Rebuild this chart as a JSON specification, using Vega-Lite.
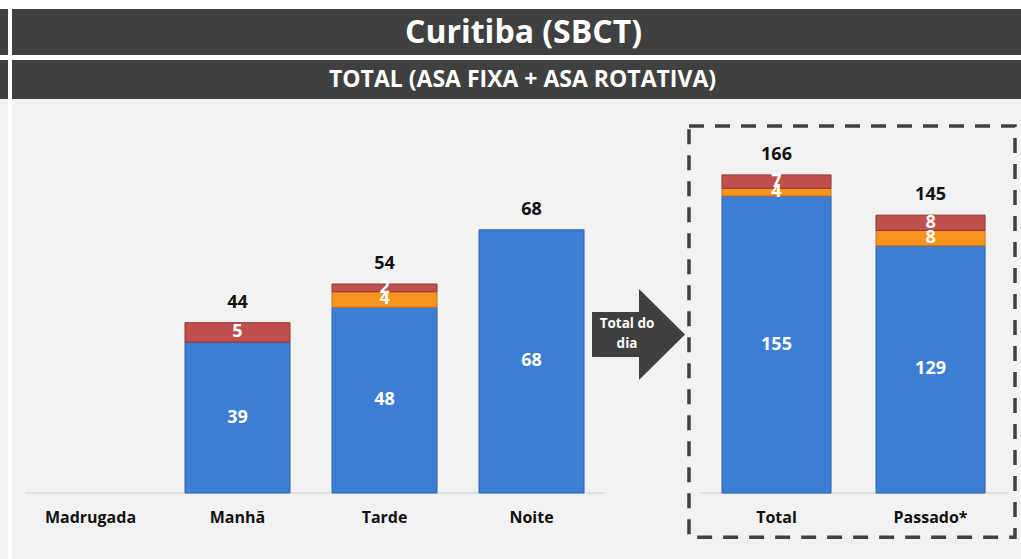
{
  "$schema": "https://vega.github.io/schema/vega-lite/v6.json",
  "background": "white",
  "padding": {"top": 9, "left": 0, "right": 0, "bottom": 0},
  "config": {"view": {"stroke": null}, "concat": {"spacing": 0}},
  "datasets": {
    "barras": [
      {"painel": "L", "periodo": "Manhã", "serie": "Série 1", "valor": 39},
      {"painel": "L", "periodo": "Manhã", "serie": "Série 3", "valor": 5},
      {"painel": "L", "periodo": "Tarde", "serie": "Série 1", "valor": 48},
      {"painel": "L", "periodo": "Tarde", "serie": "Série 2", "valor": 4},
      {"painel": "L", "periodo": "Tarde", "serie": "Série 3", "valor": 2},
      {"painel": "L", "periodo": "Noite", "serie": "Série 1", "valor": 68},
      {"painel": "R", "periodo": "Total", "serie": "Série 1", "valor": 155},
      {"painel": "R", "periodo": "Total", "serie": "Série 2", "valor": 4},
      {"painel": "R", "periodo": "Total", "serie": "Série 3", "valor": 7},
      {"painel": "R", "periodo": "Passado*", "serie": "Série 1", "valor": 129},
      {"painel": "R", "periodo": "Passado*", "serie": "Série 2", "valor": 8},
      {"painel": "R", "periodo": "Passado*", "serie": "Série 3", "valor": 8}
    ],
    "categorias": [
      {"painel": "L", "periodo": "Madrugada"},
      {"painel": "L", "periodo": "Manhã"},
      {"painel": "L", "periodo": "Tarde"},
      {"painel": "L", "periodo": "Noite"},
      {"painel": "R", "periodo": "Total"},
      {"painel": "R", "periodo": "Passado*"}
    ]
  },
  "spacing": 4,
  "hconcat": [
    {
      "spacing": 5,
      "vconcat": [
        {"width": 8, "height": 46, "view": {"fill": "#404040", "stroke": null}, "data": {"values": [{}]}, "mark": "text", "encoding": {"text": {"value": ""}}},
        {
          "spacing": 0,
          "vconcat": [
            {"width": 8, "height": 39, "view": {"fill": "#404040", "stroke": null}, "data": {"values": [{}]}, "mark": "text", "encoding": {"text": {"value": ""}}},
            {"width": 8, "height": 460, "view": {"fill": "#f2f2f2", "stroke": null}, "data": {"values": [{}]}, "mark": "text", "encoding": {"text": {"value": ""}}}
          ]
        }
      ]
    },
    {
      "spacing": 5,
      "vconcat": [
        {
          "width": 1009, "height": 46,
          "view": {"fill": "#404040", "stroke": null},
          "data": {"values": [{"titulo": "Curitiba (SBCT)"}]},
          "mark": {"type": "text", "color": "white", "font": "Open Sans", "fontWeight": "bold", "fontSize": 32, "dx": 7, "dy": 1, "baseline": "middle"},
          "encoding": {"text": {"field": "titulo"}}
        },
        {
          "spacing": 0,
          "vconcat": [
            {
              "width": 1009, "height": 39,
              "view": {"fill": "#404040", "stroke": null},
              "data": {"values": [{"titulo": "TOTAL (ASA FIXA + ASA ROTATIVA)"}]},
              "mark": {"type": "text", "color": "white", "font": "Open Sans", "fontWeight": "bold", "fontSize": 23, "dx": 6, "baseline": "middle"},
              "encoding": {"text": {"field": "titulo"}}
            },
            {
              "spacing": 0,
              "bounds": "flush",
              "hconcat": [
                {
                  "width": 676, "height": 460,
                  "view": {"fill": "#f2f2f2", "stroke": null},
                  "resolve": {"scale": {"x": "independent"}},
                  "layer": [
                    {
                      "data": {"values": [{}]},
                      "layer": [
                        {
                          "mark": {"type": "rule", "color": "#d9d9d9", "strokeWidth": 1.5},
                          "encoding": {
                            "x": {"datum": 1.92, "type": "quantitative", "scale": {"domain": [0, 100], "nice": false, "zero": false}, "axis": null},
                            "x2": {"datum": 87.7},
                            "y": {"datum": 0, "type": "quantitative", "scale": {"domain": [-17.05, 101.8], "nice": false, "zero": false}, "axis": null}
                          }
                        },
                        {
                          "mark": {"type": "point", "shape": "M-1,-0.484L0.01,-0.484L0.01,-0.978L1,0L0.01,0.978L0.01,0.484L-1,0.484Z", "size": 8649, "filled": true, "color": "#404040", "opacity": 1, "strokeWidth": 0},
                          "encoding": {
                            "x": {"datum": 92.68, "type": "quantitative", "scale": {"domain": [0, 100], "nice": false, "zero": false}, "axis": null},
                            "y": {"datum": 40.96, "type": "quantitative", "scale": {"domain": [-17.05, 101.8], "nice": false, "zero": false}, "axis": null}
                          }
                        },
                        {
                          "mark": {"type": "text", "color": "white", "font": "Open Sans", "fontWeight": "bold", "fontSize": 13.5, "lineHeight": 20, "baseline": "middle", "align": "center"},
                          "encoding": {
                            "x": {"datum": 90.98, "type": "quantitative", "scale": {"domain": [0, 100], "nice": false, "zero": false}, "axis": null},
                            "y": {"datum": 43.6, "type": "quantitative", "scale": {"domain": [-17.05, 101.8], "nice": false, "zero": false}, "axis": null},
                            "text": {"value": ["Total do", "dia"]}
                          }
                        }
                      ]
                    },
                    {
                      "layer": [
                        {
                          "data": {"name": "barras"},
                          "transform": [{"filter": "datum.painel == 'L'"}],
                          "mark": {"type": "bar", "strokeWidth": 1},
                          "encoding": {
                            "x": {"field": "periodo", "type": "nominal", "scale": {"domain": ["Madrugada", "Manhã", "Tarde", "Noite"], "paddingInner": 0.2857, "paddingOuter": 0.442, "align": 0.2}, "axis": null},
                            "y": {"field": "valor", "type": "quantitative", "stack": "zero", "scale": {"domain": [-17.05, 101.8], "nice": false, "zero": false}, "axis": null},
                            "color": {"field": "serie", "type": "nominal", "scale": {"domain": ["Série 1", "Série 2", "Série 3"], "range": ["#3c7dd5", "#f7941e", "#c0504d"]}, "legend": null},
                            "stroke": {"field": "serie", "type": "nominal", "scale": {"domain": ["Série 1", "Série 2", "Série 3"], "range": ["#2f62a8", "#c9720f", "#8f3533"]}, "legend": null},
                            "order": {"field": "serie"}
                          }
                        },
                        {
                          "data": {"name": "barras"},
                          "transform": [{"filter": "datum.painel == 'L'"}],
                          "mark": {"type": "text", "color": "white", "font": "Open Sans", "fontWeight": "bold", "fontSize": 18, "baseline": "middle"},
                          "encoding": {
                            "x": {"field": "periodo", "type": "nominal", "scale": {"domain": ["Madrugada", "Manhã", "Tarde", "Noite"], "paddingInner": 0.2857, "paddingOuter": 0.442, "align": 0.2}, "axis": null},
                            "y": {"field": "valor", "type": "quantitative", "stack": "zero", "bandPosition": 0.5, "scale": {"domain": [-17.05, 101.8], "nice": false, "zero": false}, "axis": null},
                            "detail": {"field": "serie", "type": "nominal"},
                            "order": {"field": "serie"},
                            "text": {"field": "valor", "type": "quantitative"}
                          }
                        },
                        {
                          "data": {"name": "barras"},
                          "transform": [{"filter": "datum.painel == 'L'"}],
                          "mark": {"type": "text", "color": "#111111", "font": "Open Sans", "fontWeight": "bold", "fontSize": 18, "baseline": "middle", "dy": -20},
                          "encoding": {
                            "x": {"field": "periodo", "type": "nominal", "scale": {"domain": ["Madrugada", "Manhã", "Tarde", "Noite"], "paddingInner": 0.2857, "paddingOuter": 0.442, "align": 0.2}, "axis": null},
                            "y": {"aggregate": "sum", "field": "valor", "type": "quantitative", "scale": {"domain": [-17.05, 101.8], "nice": false, "zero": false}, "axis": null},
                            "text": {"aggregate": "sum", "field": "valor", "type": "quantitative"}
                          }
                        },
                        {
                          "data": {"name": "categorias"},
                          "transform": [{"filter": "datum.painel == 'L'"}],
                          "mark": {"type": "text", "color": "#111111", "font": "Open Sans", "fontWeight": "bold", "fontSize": 16, "baseline": "middle"},
                          "encoding": {
                            "x": {"field": "periodo", "type": "nominal", "scale": {"domain": ["Madrugada", "Manhã", "Tarde", "Noite"], "paddingInner": 0.2857, "paddingOuter": 0.442, "align": 0.2}, "axis": null},
                            "y": {"datum": -6.46, "type": "quantitative", "scale": {"domain": [-17.05, 101.8], "nice": false, "zero": false}, "axis": null},
                            "text": {"field": "periodo", "type": "nominal"}
                          }
                        }
                      ]
                    }
                  ]
                },
                {
                  "width": 333, "height": 460,
                  "view": {"fill": "#f2f2f2", "stroke": null},
                  "resolve": {"scale": {"x": "independent"}},
                  "layer": [
                    {
                      "data": {"values": [{}]},
                      "layer": [
                        {
                          "mark": {"type": "rect", "fill": "#f2f2f2", "strokeWidth": 0},
                          "encoding": {
                            "x": {"datum": -0.9, "type": "quantitative", "scale": {"domain": [0, 100], "nice": false, "zero": false}, "axis": null},
                            "x2": {"datum": 0.3},
                            "y": {"datum": 205.6, "type": "quantitative", "scale": {"domain": [-34.4, 205.6], "nice": false, "zero": false}, "axis": null},
                            "y2": {"datum": -34.4}
                          }
                        },
                        {
                          "mark": {"type": "rule", "color": "#d9d9d9", "strokeWidth": 1.5},
                          "encoding": {
                            "x": {"datum": 3.6, "type": "quantitative", "scale": {"domain": [0, 100], "nice": false, "zero": false}, "axis": null},
                            "x2": {"datum": 96.1},
                            "y": {"datum": 0, "type": "quantitative", "scale": {"domain": [-34.4, 205.6], "nice": false, "zero": false}, "axis": null}
                          }
                        },
                        {
                          "mark": {"type": "rect", "fill": null, "fillOpacity": 0, "stroke": "#404040", "strokeWidth": 3.5, "strokeDash": [15, 11]},
                          "encoding": {
                            "x": {"datum": 0.3, "type": "quantitative", "scale": {"domain": [0, 100], "nice": false, "zero": false}, "axis": null},
                            "x2": {"datum": 98.2},
                            "y": {"datum": 191.5, "type": "quantitative", "scale": {"domain": [-34.4, 205.6], "nice": false, "zero": false}, "axis": null},
                            "y2": {"datum": -23.0}
                          }
                        }
                      ]
                    },
                    {
                      "layer": [
                        {
                          "data": {"name": "barras"},
                          "transform": [{"filter": "datum.painel == 'R'"}],
                          "mark": {"type": "bar", "strokeWidth": 1},
                          "encoding": {
                            "x": {"field": "periodo", "type": "nominal", "scale": {"domain": ["Total", "Passado*"], "paddingInner": 0.292, "paddingOuter": 0.227, "align": 0.486}, "axis": null},
                            "y": {"field": "valor", "type": "quantitative", "stack": "zero", "scale": {"domain": [-34.4, 205.6], "nice": false, "zero": false}, "axis": null},
                            "color": {"field": "serie", "type": "nominal", "scale": {"domain": ["Série 1", "Série 2", "Série 3"], "range": ["#3c7dd5", "#f7941e", "#c0504d"]}, "legend": null},
                            "stroke": {"field": "serie", "type": "nominal", "scale": {"domain": ["Série 1", "Série 2", "Série 3"], "range": ["#2f62a8", "#c9720f", "#8f3533"]}, "legend": null},
                            "order": {"field": "serie"}
                          }
                        },
                        {
                          "data": {"name": "barras"},
                          "transform": [{"filter": "datum.painel == 'R'"}],
                          "mark": {"type": "text", "color": "white", "font": "Open Sans", "fontWeight": "bold", "fontSize": 18, "baseline": "middle"},
                          "encoding": {
                            "x": {"field": "periodo", "type": "nominal", "scale": {"domain": ["Total", "Passado*"], "paddingInner": 0.292, "paddingOuter": 0.227, "align": 0.486}, "axis": null},
                            "y": {"field": "valor", "type": "quantitative", "stack": "zero", "bandPosition": 0.5, "scale": {"domain": [-34.4, 205.6], "nice": false, "zero": false}, "axis": null},
                            "detail": {"field": "serie", "type": "nominal"},
                            "order": {"field": "serie"},
                            "text": {"field": "valor", "type": "quantitative"}
                          }
                        },
                        {
                          "data": {"name": "barras"},
                          "transform": [{"filter": "datum.painel == 'R'"}],
                          "mark": {"type": "text", "color": "#111111", "font": "Open Sans", "fontWeight": "bold", "fontSize": 18, "baseline": "middle", "dy": -20},
                          "encoding": {
                            "x": {"field": "periodo", "type": "nominal", "scale": {"domain": ["Total", "Passado*"], "paddingInner": 0.292, "paddingOuter": 0.227, "align": 0.486}, "axis": null},
                            "y": {"aggregate": "sum", "field": "valor", "type": "quantitative", "scale": {"domain": [-34.4, 205.6], "nice": false, "zero": false}, "axis": null},
                            "text": {"aggregate": "sum", "field": "valor", "type": "quantitative"}
                          }
                        },
                        {
                          "data": {"name": "categorias"},
                          "transform": [{"filter": "datum.painel == 'R'"}],
                          "mark": {"type": "text", "color": "#111111", "font": "Open Sans", "fontWeight": "bold", "fontSize": 16, "baseline": "middle"},
                          "encoding": {
                            "x": {"field": "periodo", "type": "nominal", "scale": {"domain": ["Total", "Passado*"], "paddingInner": 0.292, "paddingOuter": 0.227, "align": 0.486}, "axis": null},
                            "y": {"datum": -13.05, "type": "quantitative", "scale": {"domain": [-34.4, 205.6], "nice": false, "zero": false}, "axis": null},
                            "text": {"field": "periodo", "type": "nominal"}
                          }
                        }
                      ]
                    }
                  ]
                }
              ]
            }
          ]
        }
      ]
    }
  ]
}
